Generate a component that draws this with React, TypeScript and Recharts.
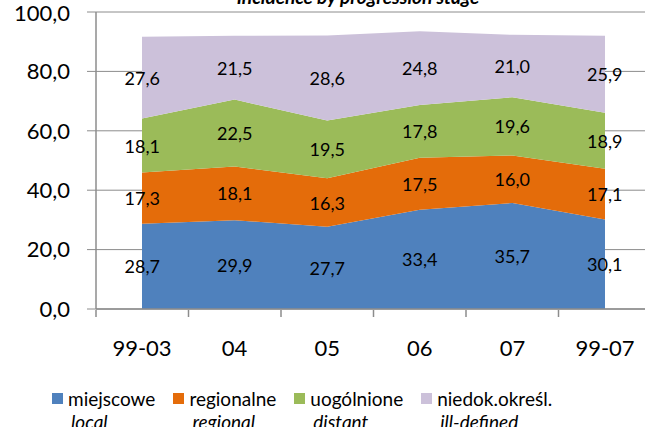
import React from 'react'
import {
  ComposedChart, XAxis, YAxis, CartesianGrid, Area, Line, LabelList
} from 'recharts'

const categories = ['99-03', '04', '05', '06', '07', '99-07']
const local = [28.7, 29.9, 27.7, 33.4, 35.7, 30.1]
const regional = [17.3, 18.1, 16.3, 17.5, 16.0, 17.1]
const distant = [18.1, 22.5, 19.5, 17.8, 19.6, 18.9]
const illDefined = [27.6, 21.5, 28.6, 24.8, 21.0, 25.9]
const yTicks = [0, 20, 40, 60, 80, 100]
const bandEdges = [0, 1, 2, 3, 4, 5, 6]

const series = [
  { key: 'local', values: local, pl: 'miejscowe', en: 'local', color: '#4f81bd' },
  { key: 'regional', values: regional, pl: 'regionalne', en: 'regional', color: '#e46c0a' },
  { key: 'distant', values: distant, pl: 'uogólnione', en: 'distant', color: '#9bbb59' },
  { key: 'ill', values: illDefined, pl: 'niedok.określ.', en: 'ill-defined', color: '#ccc1da' },
]

// one row per category; pos = centre of the category band, mid_* = middle of each stacked band
const data = categories.map((cat, i) => {
  const row: Record<string, any> = { cat, pos: i + 0.5 }
  let base = 0
  series.forEach((s) => {
    const v = s.values[i]
    row[s.key] = v
    row['mid_' + s.key] = base + v / 2
    base += v
  })
  return row
})

const fmt = (v: number) => v.toFixed(1).replace('.', ',')
const FONT = 'Lato, "Open Sans", sans-serif'
const GRAY = '#8c8c8c'

const ValueLabel = (props: any) => {
  const { x, y, value } = props
  return (
    <text x={x} y={y} textAnchor="middle" dominantBaseline="central"
          fontFamily={FONT} fontSize={18} fill="#000">
      {fmt(value)}
    </text>
  )
}

const App: React.FC = () => {
  return (
    <div style={{ position: 'absolute', left: 0, top: 0, width: 645, height: 427,
                  overflow: 'hidden', background: '#fff', fontFamily: FONT }}>
      <ComposedChart width={660} height={427} data={data}
                     margin={{ top: 12, right: 9, bottom: 0, left: 0 }}>
        <CartesianGrid vertical={false} stroke={GRAY} />
        {/* tick marks between the categories */}
        <XAxis xAxisId="edges" dataKey="pos" type="number" domain={[0, 6]} ticks={bandEdges}
               allowDataOverflow tickFormatter={() => ''} axisLine={false} height={117}
               tickSize={7} tickLine={{ stroke: GRAY, strokeWidth: 1.5 }} />
        <XAxis dataKey="cat" padding={{ left: 46, right: 46 }} height={1}
               tickLine={false} tickSize={0} tickMargin={31}
               axisLine={{ stroke: GRAY, strokeWidth: 1.5 }}
               tick={{ fontFamily: FONT, fontSize: 22, fill: '#000' }} />
        <YAxis domain={[0, 100]} ticks={yTicks} width={96} tickSize={9} tickMargin={17}
               tickFormatter={fmt} axisLine={{ stroke: GRAY, strokeWidth: 1.5 }}
               tickLine={{ stroke: GRAY }}
               tick={{ fontFamily: FONT, fontSize: 22, fill: '#000' }} />
        {series.map((s) => (
          <Area key={s.key} type="linear" dataKey={s.key} stackId="1" name={s.pl}
                stroke="none" fill={s.color} fillOpacity={1} isAnimationActive={false} />
        ))}
        {series.map((s) => (
          <Line key={'l' + s.key} xAxisId="edges" dataKey={'mid_' + s.key} stroke="none"
                dot={false} activeDot={false} legendType="none" isAnimationActive={false}>
            <LabelList dataKey={s.key} content={<ValueLabel />} />
          </Line>
        ))}
      </ComposedChart>

      <svg width={645} height={30} style={{ position: 'absolute', left: 0, top: 0 }}>
        <text x={358} y={4} textAnchor="middle" fontFamily={FONT} fontSize={19}
              fontWeight="bold" fontStyle="italic" fill="#000">
          Incidence by progression stage
        </text>
      </svg>

      <div style={{ position: 'absolute', left: 52, top: 387, display: 'flex', gap: 18,
                    fontSize: 19, lineHeight: '23px', color: '#000' }}>
        {series.map((s) => (
          <div key={s.key} style={{ display: 'flex', alignItems: 'flex-start' }}>
            <div style={{ width: 11, height: 11, background: s.color, marginTop: 6, marginRight: 5 }} />
            <div>
              <div>{s.pl}</div>
              <div style={{ fontStyle: 'italic', paddingLeft: 3 }}>{s.en}</div>
            </div>
          </div>
        ))}
      </div>
    </div>
  )
}

export default App
